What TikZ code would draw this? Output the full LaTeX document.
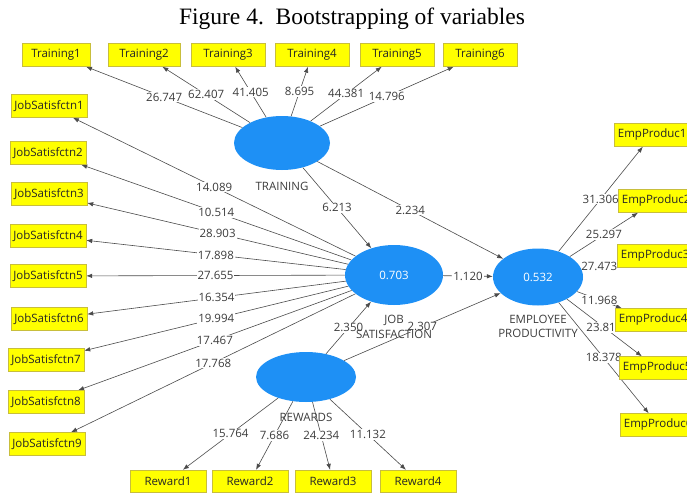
\documentclass[tikz,border=0pt]{standalone}
\usepackage{fontspec}
\setmainfont{Liberation Serif}
\newfontfamily\plsfont{Open Sans}
\usepackage{tikz}
\usetikzlibrary{shapes,arrows.meta,positioning,backgrounds}
\definecolor{latentblue}{RGB}{30,144,245}
\definecolor{itemyellow}{RGB}{255,255,0}
\definecolor{itemborder}{RGB}{200,190,60}
\definecolor{pathgray}{RGB}{75,75,75}
\definecolor{numgray}{RGB}{60,60,60}

\begin{document}
\begin{tikzpicture}[x=1pt, y=-1pt,
  indicator/.style={rectangle, draw=itemborder, fill=itemyellow, minimum width=76pt, minimum height=23pt, inner sep=1pt, font=\plsfont\fontsize{11.5}{12}\selectfont, text=black!85},
  construct/.style={ellipse, fill=latentblue, inner sep=0pt, font=\plsfont\fontsize{11.5}{12}\selectfont, text=white},
  conname/.style={font=\plsfont\fontsize{11.5}{14.5}\selectfont, text=numgray, align=center, inner sep=1pt},
  coef/.style={fill=white, inner sep=1pt, font=\plsfont\fontsize{11.5}{12}\selectfont, text=numgray},
  arrow/.style={-{Latex[length=6pt,width=4.5pt]}, draw=pathgray, line width=0.6pt}]

\useasboundingbox (0,0) rectangle (687,492);
\clip (0,0) rectangle (687,492);

% Title
\node[font=\fontsize{23.5}{26}\selectfont] (title) at (352,19) {Figure 4.\ \ Bootstrapping of variables};

% Latent variables
\node[construct, minimum width=96pt, minimum height=54pt] (train) at (282,143) {};
\node[construct, minimum width=98pt, minimum height=60pt] (jobsat) at (394,275) {0.703};
\node[construct, minimum width=90pt, minimum height=57pt] (empprod) at (538,277) {0.532};
\node[construct, minimum width=100pt, minimum height=50pt] (reward) at (306,377) {};

\node[conname, below=11pt of train] (trainname) {TRAINING};
\node[conname, below=9pt of jobsat] (jobsatname) {JOB\\SATISFACTION};
\node[conname, below=8pt of empprod] (empprodname) {EMPLOYEE\\PRODUCTIVITY};
\node[conname, below=10pt of reward] (rewardname) {REWARDS};

% Training indicators
\node[indicator, minimum width=68pt] (t1) at (56,55) {Training1};
\node[indicator, minimum width=72pt] (t2) at (144,55) {Training2};
\node[indicator, minimum width=74pt] (t3) at (228,55) {Training3};
\node[indicator, minimum width=74pt] (t4) at (312,55) {Training4};
\node[indicator, minimum width=74pt] (t5) at (397,55) {Training5};
\node[indicator, minimum width=74pt] (t6) at (480,55) {Training6};

% Job satisfaction indicators
\node[indicator] (js1) at (49,106) {JobSatisfctn1};
\node[indicator] (js2) at (48,153) {JobSatisfctn2};
\node[indicator] (js3) at (49,194) {JobSatisfctn3};
\node[indicator] (js4) at (48,236) {JobSatisfctn4};
\node[indicator] (js5) at (48,276) {JobSatisfctn5};
\node[indicator] (js6) at (49,319) {JobSatisfctn6};
\node[indicator] (js7) at (46,360) {JobSatisfctn7};
\node[indicator] (js8) at (46,402) {JobSatisfctn8};
\node[indicator] (js9) at (47,444) {JobSatisfctn9};

% Reward indicators
\node[indicator, minimum height=22pt] (r1) at (168,481) {Reward1};
\node[indicator, minimum height=22pt] (r2) at (250,481) {Reward2};
\node[indicator, minimum height=22pt] (r3) at (333,481) {Reward3};
\node[indicator, minimum height=22pt] (r4) at (418,481) {Reward4};

% Productivity indicators
\node[indicator, anchor=west] (ep1) at (614,135) {EmpProduc1};
\node[indicator, anchor=west] (ep2) at (618,201) {EmpProduc2};
\node[indicator, anchor=west] (ep3) at (617,256) {EmpProduc3};
\node[indicator, anchor=west] (ep4) at (615,320) {EmpProduc4};
\node[indicator, anchor=west] (ep5) at (619,368) {EmpProduc5};
\node[indicator, anchor=west] (ep6) at (620,425) {EmpProduc6};

\begin{scope}[on background layer]
% Outer loadings
\draw[arrow] (train) -- node[coef]{26.747} (t1);
\draw[arrow] (train) -- node[coef]{62.407} (t2);
\draw[arrow] (train) -- node[coef]{41.405} (t3);
\draw[arrow] (train) -- node[coef]{8.695} (t4);
\draw[arrow] (train) -- node[coef]{44.381} (t5);
\draw[arrow] (train) -- node[coef]{14.796} (t6);

\draw[arrow] (jobsat) -- node[coef]{14.089} (js1);
\draw[arrow] (jobsat) -- node[coef]{10.514} (js2);
\draw[arrow] (jobsat) -- node[coef]{28.903} (js3);
\draw[arrow] (jobsat) -- node[coef]{17.898} (js4);
\draw[arrow] (jobsat) -- node[coef]{27.655} (js5);
\draw[arrow] (jobsat) -- node[coef]{16.354} (js6);
\draw[arrow] (jobsat) -- node[coef]{19.994} (js7);
\draw[arrow] (jobsat) -- node[coef]{17.467} (js8);
\draw[arrow] (jobsat) -- node[coef]{17.768} (js9);

\draw[arrow] (reward) -- node[coef]{15.764} (r1);
\draw[arrow] (reward) -- node[coef]{7.686} (r2);
\draw[arrow] (reward) -- node[coef]{24.234} (r3);
\draw[arrow] (reward) -- node[coef]{11.132} (r4);

\draw[arrow] (empprod) -- node[coef]{31.306} (ep1);
\draw[arrow] (empprod) -- node[coef]{25.297} (ep2);
\draw[arrow] (empprod) -- node[coef]{27.473} (ep3);
\draw[arrow] (empprod) -- node[coef]{11.968} (ep4);
\draw[arrow] (empprod) -- node[coef]{23.818} (ep5);
\draw[arrow] (empprod) -- node[coef]{18.378} (ep6);

% Inner paths
\draw[arrow] (train) -- node[coef]{6.213} (jobsat);
\draw[arrow] (train) -- node[coef]{2.234} (empprod);
\draw[arrow] (jobsat) -- node[coef]{1.120} (empprod);
\draw[arrow] (reward) -- node[coef]{2.350} (jobsat);
\draw[arrow] (reward) -- node[coef]{2.307} (empprod);
\end{scope}

\end{tikzpicture}
\end{document}
